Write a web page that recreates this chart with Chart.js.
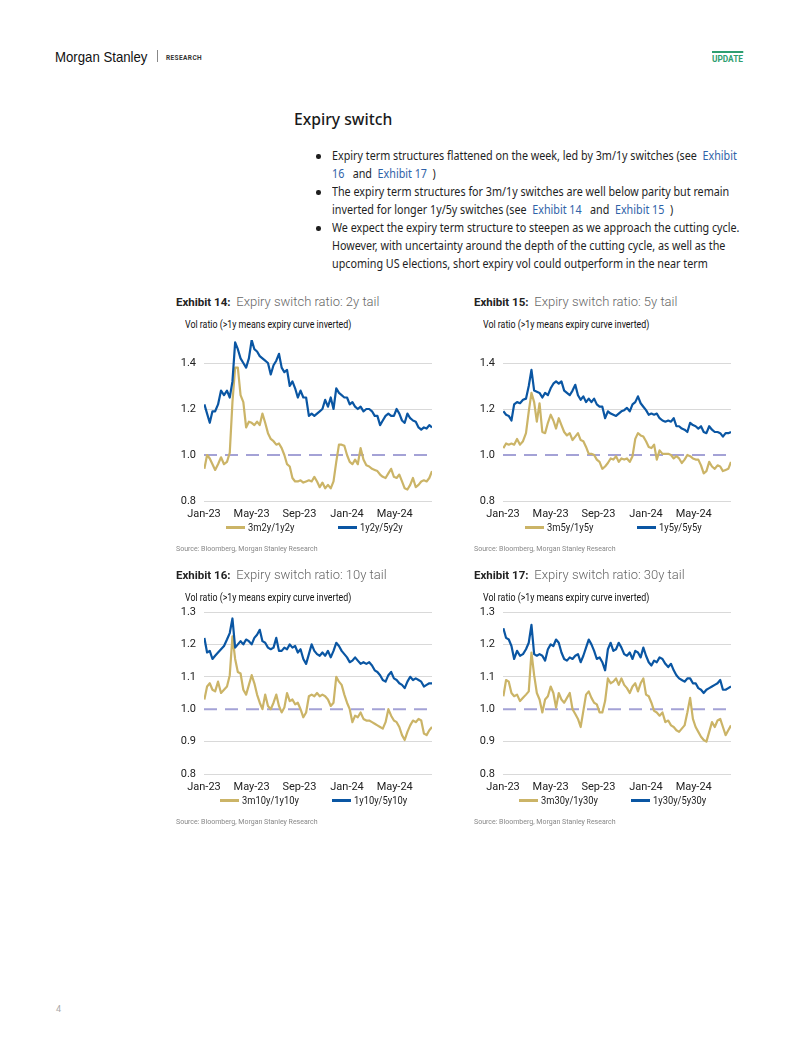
<!DOCTYPE html>
<html><head><meta charset="utf-8">
<script src="https://cdn.jsdelivr.net/npm/chart.js@4.4.1/dist/chart.umd.min.js"></script>
<style>
html,body{margin:0;padding:0;background:#fff;}
body{width:802px;height:1037px;position:relative;overflow:hidden;font-family:Roboto,"Liberation Sans",sans-serif;color:#222;}
.abs{position:absolute;white-space:nowrap;}
.sx{transform-origin:0 0;}
.ms{left:55px;top:48px;font-family:"Liberation Sans",Roboto,sans-serif;font-size:15px;color:#111;transform:scaleX(0.88);}
.sep{left:157px;top:50px;width:1px;height:12px;background:#888;}
.res{left:166px;top:54px;font-size:6.5px;font-weight:700;letter-spacing:0.4px;color:#333;}
.upd{left:712px;top:51px;font-size:9px;font-weight:700;color:#2e9e70;border-top:2px solid #2e9e70;padding-top:1px;transform:scaleX(0.92);transform-origin:0 0;}
.h1{left:294px;top:107px;font-family:"Noto Sans",sans-serif;font-size:16.5px;font-weight:500;color:#1a1a1a;transform:scaleX(0.95);transform-origin:0 0;}
.bl{font-family:"Noto Sans",sans-serif;font-size:12.5px;color:#1e1e1e;left:332px;transform:scaleX(0.86);transform-origin:0 0;}
.dot{left:316px;width:4.5px;height:4.5px;border-radius:50%;background:#1e1e1e;}
.lk{color:#2f62a8;}
.et{font-size:11.5px;color:#222;}
.et b{font-weight:700;}
.et span{font-weight:300;color:#666;font-size:13px;}
.sub{font-size:10.5px;color:#111;transform:scaleX(0.84);transform-origin:0 0;}
.src{font-size:7px;color:#888;}
.leg{display:flex;justify-content:center;align-items:center;font-size:11px;color:#222;}
.leg .it{display:flex;align-items:center;}
.leg .ln{display:inline-block;width:19px;height:2.5px;margin-right:3px;flex:none;}
.leg .tx{display:inline-block;transform:scaleX(0.85);transform-origin:0 50%;}
canvas{position:absolute;}
.pg{left:56px;top:1004px;font-size:9px;color:#aaa;}
</style>
</head><body>
<div class="abs ms sx">Morgan Stanley</div>
<div class="abs sep"></div>
<div class="abs res">RESEARCH</div>
<div class="abs upd">UPDATE</div>

<div class="abs h1">Expiry switch</div>
<div class="abs dot" style="top:154px"></div>
<div class="abs bl" style="top:147px">Expiry term structures flattened on the week, led by 3m/1y switches (see &nbsp;<span class="lk">Exhibit</span></div>
<div class="abs bl" style="top:165px"><span class="lk">16</span> &nbsp; and &nbsp;<span class="lk">Exhibit 17</span> &nbsp;)</div>
<div class="abs dot" style="top:190px"></div>
<div class="abs bl" style="top:183px">The expiry term structures for 3m/1y switches are well below parity but remain</div>
<div class="abs bl" style="top:201px">inverted for longer 1y/5y switches (see &nbsp;<span class="lk">Exhibit 14</span> &nbsp; and &nbsp;<span class="lk">Exhibit 15</span> &nbsp;)</div>
<div class="abs dot" style="top:226px"></div>
<div class="abs bl" style="top:219px">We expect the expiry term structure to steepen as we approach the cutting cycle.</div>
<div class="abs bl" style="top:237px">However, with uncertainty around the depth of the cutting cycle, as well as the</div>
<div class="abs bl" style="top:255px">upcoming US elections, short expiry vol could outperform in the near term</div>

<div class="abs et" style="left:176px;top:294px"><b>Exhibit 14:</b>&nbsp; <span>Expiry switch ratio: 2y tail</span></div>
<div class="abs sub" style="left:185px;top:318px">Vol ratio (&gt;1y means expiry curve inverted)</div>
<canvas id="c14" width="264" height="190" style="left:170px;top:332px;width:264px;height:190px"></canvas>
<div class="abs leg" id="l14" style="left:204px;top:521px;width:228px"></div>
<div class="abs src" style="left:176px;top:545px">Source: Bloomberg, Morgan Stanley Research</div>

<div class="abs et" style="left:474px;top:294px"><b>Exhibit 15:</b>&nbsp; <span>Expiry switch ratio: 5y tail</span></div>
<div class="abs sub" style="left:483px;top:318px">Vol ratio (&gt;1y means expiry curve inverted)</div>
<canvas id="c15" width="264" height="190" style="left:469px;top:332px;width:264px;height:190px"></canvas>
<div class="abs leg" id="l15" style="left:503px;top:521px;width:228px"></div>
<div class="abs src" style="left:474px;top:545px">Source: Bloomberg, Morgan Stanley Research</div>

<div class="abs et" style="left:176px;top:567px"><b>Exhibit 16:</b>&nbsp; <span>Expiry switch ratio: 10y tail</span></div>
<div class="abs sub" style="left:185px;top:591px">Vol ratio (&gt;1y means expiry curve inverted)</div>
<canvas id="c16" width="264" height="191" style="left:170px;top:604px;width:264px;height:191px"></canvas>
<div class="abs leg" id="l16" style="left:204px;top:794px;width:228px"></div>
<div class="abs src" style="left:176px;top:818px">Source: Bloomberg, Morgan Stanley Research</div>

<div class="abs et" style="left:474px;top:567px"><b>Exhibit 17:</b>&nbsp; <span>Expiry switch ratio: 30y tail</span></div>
<div class="abs sub" style="left:483px;top:591px">Vol ratio (&gt;1y means expiry curve inverted)</div>
<canvas id="c17" width="264" height="191" style="left:469px;top:604px;width:264px;height:191px"></canvas>
<div class="abs leg" id="l17" style="left:503px;top:794px;width:228px"></div>
<div class="abs src" style="left:474px;top:818px">Source: Bloomberg, Morgan Stanley Research</div>

<div class="abs pg">4</div>

<script>
// ---- categories: weekly observations starting 2 Jan 2023 ----
const startDate = "2023-01-02";
const tickLabels = ["Jan-23", "May-23", "Sep-23", "Jan-24", "May-24"];
const tickMonths = [0, 4, 8, 12, 16];
const parityLevel = 1.0;

// ---- Exhibit 14: 2y tail ----
const s3m2y_1y2y = [0.94,1.00,0.985,0.96,0.935,0.96,0.99,0.96,0.97,1.01,1.23,1.38,1.38,1.26,1.23,1.12,1.145,1.14,1.13,1.145,1.13,1.18,1.14,1.095,1.07,1.06,1.045,1.05,1.03,1.00,0.96,0.95,0.90,0.885,0.885,0.89,0.88,0.885,0.89,0.885,0.905,0.885,0.86,0.88,0.855,0.87,0.855,0.885,0.97,1.045,1.045,1.04,1.00,0.97,0.96,0.98,0.96,1.03,0.98,0.955,0.95,0.94,0.935,0.93,0.915,0.905,0.90,0.92,0.94,0.905,0.90,0.915,0.885,0.855,0.85,0.87,0.90,0.86,0.87,0.885,0.89,0.885,0.90,0.93];
const s1y2y_5y2y = [1.22,1.18,1.14,1.19,1.19,1.22,1.28,1.26,1.28,1.25,1.32,1.49,1.46,1.42,1.40,1.38,1.42,1.50,1.46,1.45,1.43,1.42,1.41,1.40,1.35,1.39,1.41,1.44,1.38,1.36,1.37,1.30,1.32,1.29,1.25,1.28,1.25,1.25,1.17,1.18,1.17,1.18,1.19,1.20,1.24,1.21,1.25,1.20,1.29,1.27,1.26,1.25,1.25,1.22,1.23,1.21,1.20,1.21,1.19,1.20,1.20,1.19,1.17,1.17,1.13,1.15,1.17,1.18,1.17,1.17,1.20,1.18,1.15,1.14,1.18,1.16,1.15,1.145,1.12,1.11,1.12,1.115,1.13,1.12];

// ---- Exhibit 15: 5y tail ----
const s3m5y_1y5y = [1.03,1.05,1.045,1.05,1.045,1.07,1.045,1.06,1.095,1.19,1.27,1.23,1.145,1.225,1.10,1.095,1.14,1.175,1.15,1.115,1.16,1.13,1.10,1.085,1.095,1.065,1.08,1.095,1.065,1.06,1.035,1.005,1.005,1.00,0.98,0.97,0.94,0.95,0.965,0.985,0.98,0.995,0.97,0.985,0.98,0.985,0.97,0.995,1.07,1.095,1.085,1.08,1.06,1.035,1.03,1.045,0.98,1.02,1.005,1.005,1.005,1.00,0.985,0.995,0.985,0.965,0.98,1.00,0.995,0.985,0.98,0.98,0.955,0.92,0.93,0.97,0.95,0.94,0.955,0.95,0.93,0.935,0.94,0.97];
const s1y5y_5y5y = [1.19,1.175,1.17,1.15,1.22,1.23,1.225,1.24,1.245,1.30,1.37,1.28,1.275,1.27,1.25,1.27,1.26,1.29,1.31,1.32,1.31,1.32,1.28,1.27,1.26,1.28,1.305,1.26,1.24,1.255,1.23,1.245,1.23,1.245,1.22,1.21,1.21,1.16,1.19,1.18,1.175,1.17,1.18,1.19,1.195,1.205,1.19,1.22,1.23,1.255,1.225,1.21,1.195,1.175,1.18,1.175,1.18,1.16,1.15,1.145,1.15,1.145,1.16,1.125,1.125,1.115,1.11,1.10,1.14,1.13,1.125,1.115,1.125,1.10,1.095,1.125,1.11,1.10,1.10,1.095,1.08,1.095,1.095,1.10];

// ---- Exhibit 16: 10y tail ----
const s3m10y_1y10y = [1.03,1.07,1.08,1.06,1.055,1.085,1.05,1.06,1.07,1.105,1.225,1.155,1.115,1.11,1.06,1.045,1.075,1.105,1.08,1.045,1.02,1.00,1.045,1.01,1.00,1.02,1.045,1.01,0.99,1.005,1.05,1.025,1.03,1.015,1.02,1.00,0.975,0.99,1.04,1.045,1.04,1.05,1.04,1.045,1.04,1.03,1.01,1.02,1.10,1.085,1.075,1.045,1.02,1.00,0.96,0.98,0.975,0.99,0.97,0.965,0.965,0.96,0.955,0.95,0.945,0.94,0.96,1.00,0.98,0.965,0.96,0.945,0.92,0.905,0.93,0.95,0.965,0.96,0.97,0.965,0.925,0.92,0.935,0.945];
const s1y10y_5y10y = [1.22,1.175,1.18,1.155,1.165,1.175,1.185,1.195,1.215,1.235,1.28,1.19,1.20,1.21,1.20,1.215,1.21,1.20,1.22,1.23,1.245,1.21,1.205,1.19,1.185,1.19,1.22,1.18,1.18,1.19,1.185,1.20,1.19,1.195,1.175,1.185,1.155,1.14,1.17,1.20,1.18,1.17,1.165,1.175,1.165,1.18,1.16,1.18,1.205,1.195,1.18,1.17,1.16,1.145,1.15,1.16,1.15,1.14,1.145,1.14,1.145,1.135,1.12,1.115,1.105,1.09,1.085,1.105,1.115,1.095,1.09,1.08,1.075,1.065,1.085,1.10,1.09,1.095,1.09,1.085,1.07,1.075,1.08,1.08];

// ---- Exhibit 17: 30y tail ----
const s3m30y_1y30y = [1.04,1.09,1.085,1.05,1.04,1.045,1.025,1.035,1.045,1.055,1.175,1.105,1.05,1.03,0.99,1.03,1.04,1.07,1.05,1.005,1.05,1.03,1.02,1.035,1.05,1.00,0.985,0.97,0.945,0.995,1.045,1.055,1.035,1.02,1.015,0.99,0.99,1.025,1.095,1.08,1.085,1.095,1.075,1.095,1.075,1.065,1.05,1.07,1.08,1.055,1.08,1.095,1.045,1.04,1.02,0.995,0.99,0.98,0.99,0.96,0.965,0.95,0.945,0.935,0.93,0.94,0.95,0.99,1.035,0.97,0.945,0.93,0.915,0.905,0.90,0.93,0.96,0.945,0.965,0.97,0.945,0.92,0.935,0.95];
const s1y30y_5y30y = [1.25,1.22,1.215,1.195,1.155,1.18,1.165,1.17,1.185,1.205,1.26,1.17,1.165,1.17,1.165,1.15,1.185,1.20,1.195,1.215,1.205,1.175,1.155,1.15,1.16,1.155,1.165,1.17,1.145,1.165,1.19,1.215,1.20,1.18,1.155,1.16,1.145,1.12,1.185,1.205,1.18,1.185,1.205,1.19,1.17,1.165,1.175,1.155,1.18,1.175,1.16,1.19,1.165,1.145,1.135,1.15,1.145,1.16,1.155,1.14,1.13,1.14,1.12,1.105,1.095,1.09,1.085,1.095,1.095,1.08,1.08,1.065,1.06,1.05,1.06,1.065,1.07,1.075,1.08,1.09,1.06,1.06,1.065,1.07];

const GOLD = "#cbb467";
const BLUE = "#0a56a3";
const PARITY = "#a4a2d6";

function monthsSinceJan23(d) {
  const y = d.getUTCFullYear(), m = d.getUTCMonth(), day = d.getUTCDate();
  const dim = new Date(Date.UTC(y, m + 1, 0)).getUTCDate();
  return (y - 2023) * 12 + m + (day - 1) / dim;
}
function weeklyX(n) {
  const base = new Date(startDate + "T00:00:00Z");
  const out = [];
  for (let i = 0; i < n; i++) {
    const d = new Date(base.getTime() + i * 7 * 86400000);
    out.push(monthsSinceJan23(d));
  }
  return out;
}

function makeChart(id, legId, goldLabel, goldVals, blueLabel, blueVals, yMin, yMax, yTicks) {
  const xs = weeklyX(goldVals.length);
  const xMax = xs[xs.length - 1];
  const toPts = vals => vals.map((v, i) => ({x: xs[i], y: v}));
  const tickFont = {family: "Roboto, 'Liberation Sans', sans-serif", size: 11};
  new Chart(document.getElementById(id), {
    type: "line",
    data: {
      datasets: [
        {label: blueLabel, data: toPts(blueVals), borderColor: BLUE, borderWidth: 2.2, pointRadius: 0, order: 1},
        {label: goldLabel, data: toPts(goldVals), borderColor: GOLD, borderWidth: 2.2, pointRadius: 0, order: 2},
        {label: "parity", data: [{x: 0, y: parityLevel}, {x: xMax, y: parityLevel}], borderColor: PARITY, borderWidth: 2, borderDash: [13, 8], pointRadius: 0, order: 3}
      ]
    },
    options: {
      responsive: false, animation: false, devicePixelRatio: 1,
      layout: {padding: {top: 8, right: 2, left: 0, bottom: 0}},
      plugins: {legend: {display: false}, tooltip: {enabled: false}},
      elements: {line: {tension: 0, borderJoinStyle: "round"}},
      scales: {
        x: {
          type: "linear", min: 0, max: xMax,
          grid: {display: false, drawTicks: false}, border: {display: false},
          afterBuildTicks: s => { s.ticks = tickMonths.map(v => ({value: v})); },
          afterFit: s => { s.height = 21; s.paddingLeft = 0; s.paddingRight = 0; },
          ticks: {autoSkip: false, maxRotation: 0, padding: 7, color: "#222", font: tickFont,
            callback: (v) => { const k = tickMonths.indexOf(v); return k >= 0 ? tickLabels[k] : ""; }}
        },
        y: {
          min: yMin, max: yMax,
          afterBuildTicks: s => { s.ticks = yTicks.map(v => ({value: v})); },
          afterFit: s => { s.width = 34; s.paddingTop = 0; s.paddingBottom = 0; },
          grid: {drawTicks: false, color: c => (c.tick && Math.abs(c.tick.value - parityLevel) < 1e-9) ? "rgba(0,0,0,0)" : "#d9d9d9", lineWidth: 1},
          border: {display: false},
          ticks: {padding: 8, color: "#222", font: tickFont, callback: v => Number(v).toFixed(1)}
        }
      }
    }
  });
  const leg = document.getElementById(legId);
  [[goldLabel, GOLD, "112px"], [blueLabel, BLUE, "auto"]].forEach(([lab, col, w]) => {
    const it = document.createElement("div");
    it.className = "it"; it.style.width = w;
    it.innerHTML = '<span class="ln" style="background:' + col + '"></span><span class="tx">' + lab + '</span>';
    leg.appendChild(it);
  });
}

makeChart("c14", "l14", "3m2y/1y2y", s3m2y_1y2y, "1y2y/5y2y", s1y2y_5y2y, 0.8, 1.5, [0.8, 1.0, 1.2, 1.4]);
makeChart("c15", "l15", "3m5y/1y5y", s3m5y_1y5y, "1y5y/5y5y", s1y5y_5y5y, 0.8, 1.5, [0.8, 1.0, 1.2, 1.4]);
makeChart("c16", "l16", "3m10y/1y10y", s3m10y_1y10y, "1y10y/5y10y", s1y10y_5y10y, 0.8, 1.3, [0.8, 0.9, 1.0, 1.1, 1.2, 1.3]);
makeChart("c17", "l17", "3m30y/1y30y", s3m30y_1y30y, "1y30y/5y30y", s1y30y_5y30y, 0.8, 1.3, [0.8, 0.9, 1.0, 1.1, 1.2, 1.3]);
</script>
</body></html>
